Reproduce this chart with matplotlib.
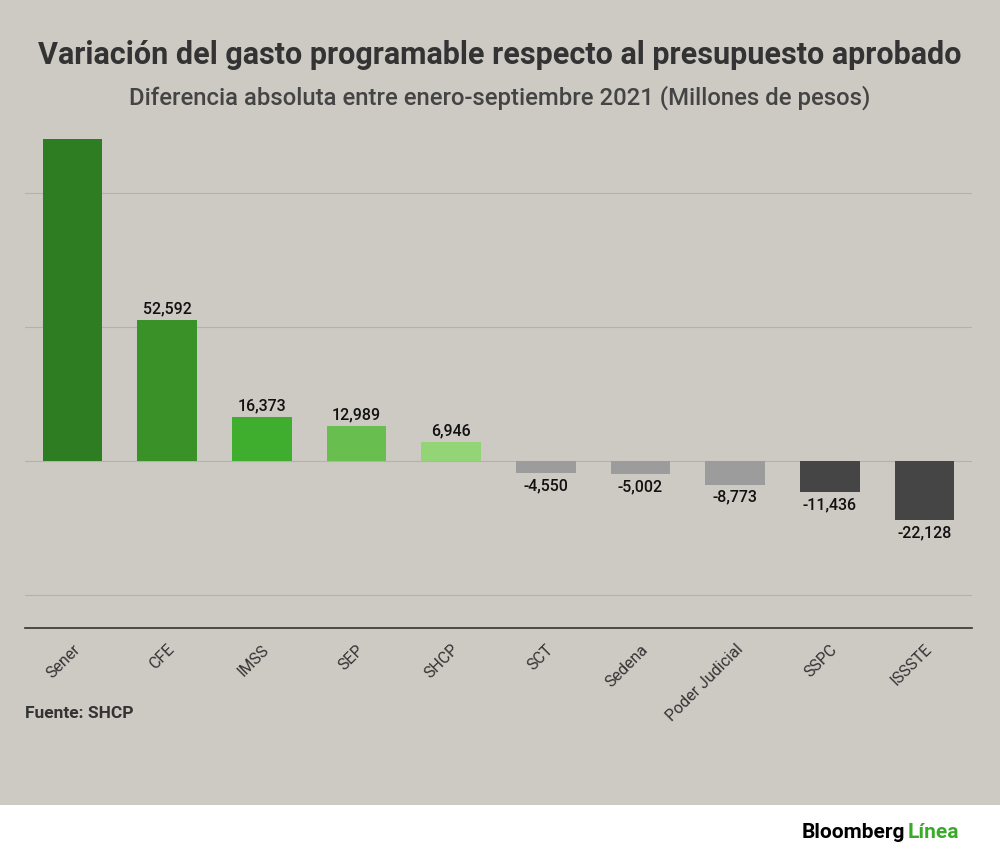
import matplotlib
matplotlib.use("Agg")
import matplotlib.pyplot as plt
from matplotlib.patches import Rectangle

categories = ["Sener", "CFE", "IMSS", "SEP", "SHCP", "SCT", "Sedena", "Poder Judicial", "SSPC", "ISSSTE"]
values = [120000, 52592, 16373, 12989, 6946, -4550, -5002, -8773, -11436, -22128]
show_label = [False, True, True, True, True, True, True, True, True, True]
colors = ["#2f7d22", "#3a9128", "#3fae2e", "#68bf4f", "#93d477",
          "#9c9c9c", "#9c9c9c", "#9c9c9c", "#454545", "#454545"]

plt.rcParams['font.family'] = ['Roboto', 'DejaVu Sans']
fig = plt.figure(figsize=(10, 8.65), dpi=100)
fig.patch.set_facecolor("white")
fig.add_artist(Rectangle((0, 1 - 805/865), 1, 805/865, transform=fig.transFigure,
                         facecolor="#cdcac4", edgecolor="none", zorder=0))

ax = fig.add_axes([0.025, 1 - 628/865, 0.947, (628 - 130)/865])
ax.set_facecolor("none")
x = range(len(categories))
ax.bar(x, values, width=0.63, color=colors, zorder=3)
ax.set_xlim(-0.5, 9.5)
ax.set_ylim(-62300, 123500)
for yv in [100000, 50000, 0, -50000]:
    ax.axhline(yv, color="#b5b2ad", lw=0.8, zorder=1)
for i, (v, s) in enumerate(zip(values, show_label)):
    if not s:
        continue
    if v > 0:
        ax.text(i, v + 1500, f"{v:,}", ha="center", va="bottom", fontsize=11.5,
                fontweight="medium", color="#111")
    else:
        ax.text(i, v - 2000, f"{v:,}", ha="center", va="top", fontsize=11.5,
                fontweight="medium", color="#111")
for sp in ["top", "right", "left"]:
    ax.spines[sp].set_visible(False)
ax.spines["bottom"].set_color("#333")
ax.spines["bottom"].set_linewidth(1.2)
ax.set_yticks([])
ax.set_xticks(list(x))
ax.set_xticklabels(categories, rotation=45, ha="right", rotation_mode="anchor",
                   fontsize=11.5, color="#333")
ax.tick_params(axis="x", length=0, pad=10)

fig.text(0.5, 1 - 55/865, "Variación del gasto programable respecto al presupuesto aprobado",
         ha="center", va="center", fontsize=22, fontweight="bold", color="#333")
fig.text(0.5, 1 - 98/865, "Diferencia absoluta entre enero-septiembre 2021 (Millones de pesos)",
         ha="center", va="center", fontsize=17.2, fontweight="medium", color="#444")
fig.text(0.025, 1 - 713/865, "Fuente: SHCP", ha="left", va="center", fontsize=12.5,
         fontweight="bold", color="#333")
fig.text(0.905, 1 - 833/865, "Bloomberg", ha="right", va="center", fontsize=15,
         fontweight="bold", color="#000")
fig.text(0.908, 1 - 833/865, "Línea", ha="left", va="center", fontsize=15,
         fontweight="bold", color="#3aaa2a")

fig.savefig("out.png", dpi=100)
